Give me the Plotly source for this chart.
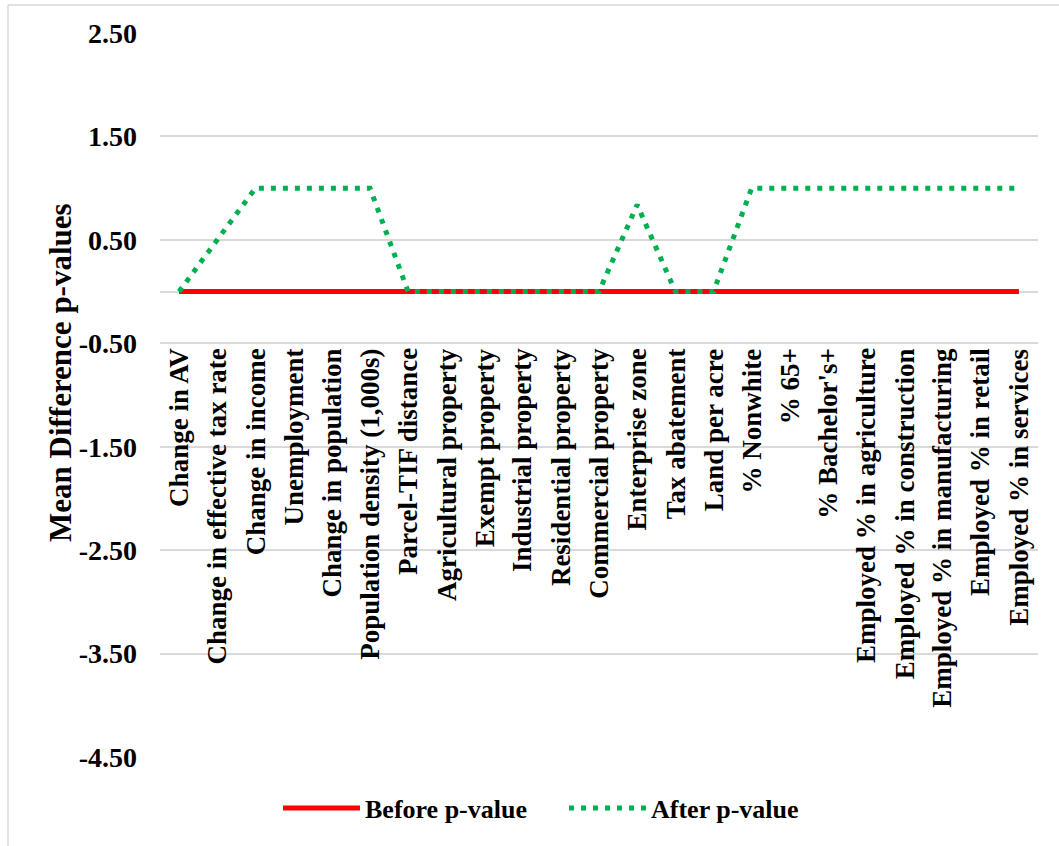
import plotly.graph_objects as go

categories = [
    "Change in AV", "Change in effective tax rate", "Change in income",
    "Unemployment", "Change in population", "Population density (1,000s)",
    "Parcel-TIF distance", "Agricultural property", "Exempt property",
    "Industrial property", "Residential property", "Commercial property",
    "Enterprise zone", "Tax abatement", "Land per acre", "% Nonwhite",
    "% 65+", "% Bachelor's+", "Employed % in agriculture",
    "Employed % in construction", "Employed % in manufacturing",
    "Employed % in retail", "Employed % in services",
]
before_p = [0] * 23
after_p = [0, 0.5, 1, 1, 1, 1, 0, 0, 0, 0, 0, 0, 0.84, 0, 0, 1, 1, 1, 1, 1, 1, 1, 1]

y_tickvals = [2.5, 1.5, 0.5, -0.5, -1.5, -2.5, -3.5, -4.5]
y_ticktext = ["2.50", "1.50", "0.50", "-0.50", "-1.50", "-2.50", "-3.50", "-4.50"]
label_level = -0.5  # category labels hang below this value

FONT = "Liberation Serif"
W, H = 1059, 846
ML, MR, MT, MB = 160, 21, 33, 89
PW, PH = W - ML - MR, H - MT - MB

x = list(range(len(categories)))

fig = go.Figure()
fig.add_trace(go.Scatter(
    x=x, y=before_p, mode="lines", name="Before p-value",
    line=dict(color="#ff0000", width=5),
))
fig.add_trace(go.Scatter(
    x=x, y=after_p, mode="lines", name="After p-value",
    line=dict(color="#00b050", width=5, dash="5px,7px"),
))

annotations = []
for i, c in enumerate(categories):
    annotations.append(dict(
        x=i, y=label_level, xref="x", yref="y", text=f"<b>{c}</b>",
        showarrow=False, textangle=-90, xanchor="center", yanchor="top",
        yshift=-3, font=dict(family=FONT, size=27, color="#000000"),
    ))
annotations.append(dict(
    x=(60 - ML) / PW, y=(H - MB - 373) / PH, xref="paper", yref="paper",
    text="<b>Mean Difference p-values</b>", showarrow=False, textangle=-90,
    xanchor="center", yanchor="middle",
    font=dict(family=FONT, size=31, color="#000000"),
))

# thin frame on the top and left edges of the chart area
shapes = [
    dict(type="line", xref="paper", yref="paper",
         x0=(8 - ML) / PW, x1=(W - ML) / PW,
         y0=(H - MB - 5) / PH, y1=(H - MB - 5) / PH,
         line=dict(color="#d9d9d9", width=1.5)),
    dict(type="line", xref="paper", yref="paper",
         x0=(8 - ML) / PW, x1=(8 - ML) / PW,
         y0=(H - MB - 5) / PH, y1=-MB / PH,
         line=dict(color="#d9d9d9", width=1.5)),
]

fig.update_layout(
    width=W, height=H,
    margin=dict(l=ML, r=MR, t=MT, b=MB),
    paper_bgcolor="white", plot_bgcolor="white",
    font=dict(family=FONT, color="#000000"),
    showlegend=True,
    legend=dict(
        orientation="h", x=(278 - ML) / PW, xanchor="left",
        y=(757 - 808) / PH, yanchor="middle",
        font=dict(family=FONT, size=26, weight="bold", color="#000000"),
        itemwidth=77, entrywidth=194, tracegroupgap=0,
    ),
    xaxis=dict(
        range=[-0.5, len(categories) - 0.5], showticklabels=False,
        showgrid=False, zeroline=False, showline=False, ticks="",
    ),
    yaxis=dict(
        range=[-4.5, 2.5], tickvals=y_tickvals, ticktext=y_ticktext,
        showgrid=True, gridcolor="#d9d9d9", gridwidth=1.5,
        zeroline=True, zerolinecolor="#d9d9d9", zerolinewidth=1.5,
        showline=False, ticks="", ticklabelstandoff=22,
        tickfont=dict(family=FONT, size=28, weight="bold", color="#000000"),
    ),
    annotations=annotations,
    shapes=shapes,
)

fig.write_html("out.html")
